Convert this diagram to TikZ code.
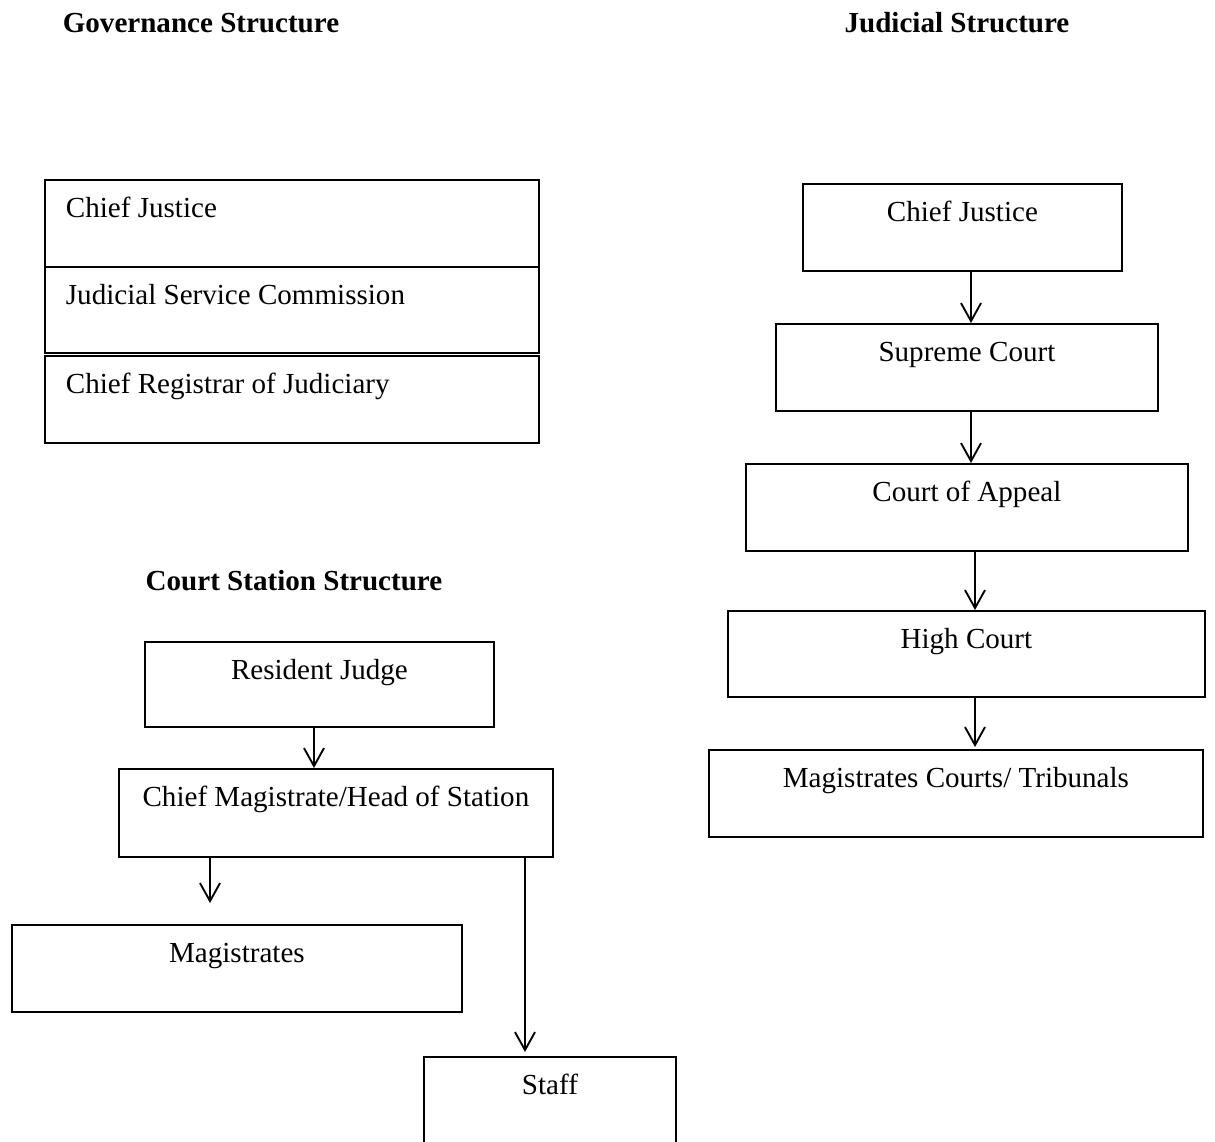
\documentclass[tikz,border=0pt]{standalone}
\usepackage{fontspec}
\setmainfont{Liberation Serif}
\usetikzlibrary{arrows.meta}
\begin{document}
\begin{tikzpicture}[x=0.75pt,y=-0.75pt,
  every node/.style={font=\fontsize{21.8}{26}\selectfont},
  box/.style={draw, line width=1.4pt, rectangle, anchor=north west, inner xsep=0pt, inner ysep=0pt,
    text height=28.5pt, text depth=36.75pt, align=center},
  gbox/.style={box, inner xsep=15.75pt, text width=339pt, align=flush left},
  title/.style={font=\fontsize{21.8}{26}\selectfont\bfseries, anchor=base},
  arr/.style={line width=1.4pt, -{Straight Barb[length=13.5pt,width=15pt,line width=1.4pt]}}
]
\useasboundingbox (0,0) rectangle (1215,1142);
\clip (0,0) rectangle (1215,1142);

% titles
\node[title] (t1) at (201,32) {Governance Structure};
\node[title] (t2) at (957,32) {Judicial Structure};
\node[title] (t3) at (294,590) {Court Station Structure};

% governance
\node[gbox] (g1) at (44,179) {Chief Justice};
\node[gbox, text depth=36pt] (g2) at (44,266) {Judicial Service Commission};
\node[gbox] (g3) at (44,355) {Chief Registrar of Judiciary};

% judicial
\node[box, minimum width=239.25pt] (jcj) at (802,183) {Chief Justice};
\node[box, minimum width=286.5pt] (sc) at (775,323) {Supreme Court};
\node[box, minimum width=331.5pt] (ca) at (745,463) {Court of Appeal};
\node[box, minimum width=357.75pt, text depth=36pt] (hc) at (727,610) {High Court};
\node[box, minimum width=370.5pt] (mc) at (708,749) {Magistrates Courts/ Tribunals};

\coordinate (xa) at (971,0);
\coordinate (xb) at (975,0);
\draw[arr] (jcj.south -| xa) -- (sc.north -| xa);
\draw[arr] (sc.south -| xa) -- (ca.north -| xa);
\draw[arr] (ca.south -| xb) -- (hc.north -| xb);
\draw[arr] (hc.south -| xb) -- ([yshift=1.5pt]mc.north -| xb);

% court station
\node[box, minimum width=261.75pt, text depth=35.25pt] (rj) at (144,641) {Resident Judge};
\node[box, minimum width=325.5pt, text depth=37.5pt] (cm) at (118,768) {Chief Magistrate/Head of Station};
\node[box, minimum width=337.5pt] (mg) at (11,924) {Magistrates};
\node[box, minimum width=189pt, text depth=50pt] (st) at (423,1056) {Staff};

\coordinate (xr) at (314,0);
\coordinate (xm) at (210,0);
\coordinate (xs) at (525,0);
\draw[arr] (rj.south -| xr) -- (cm.north -| xr);
\draw[arr, shorten >=15.75pt] (cm.south -| xm) -- (mg.north -| xm);
\draw[arr, shorten >=3pt] (cm.south -| xs) -- (st.north -| xs);
\end{tikzpicture}
\end{document}
